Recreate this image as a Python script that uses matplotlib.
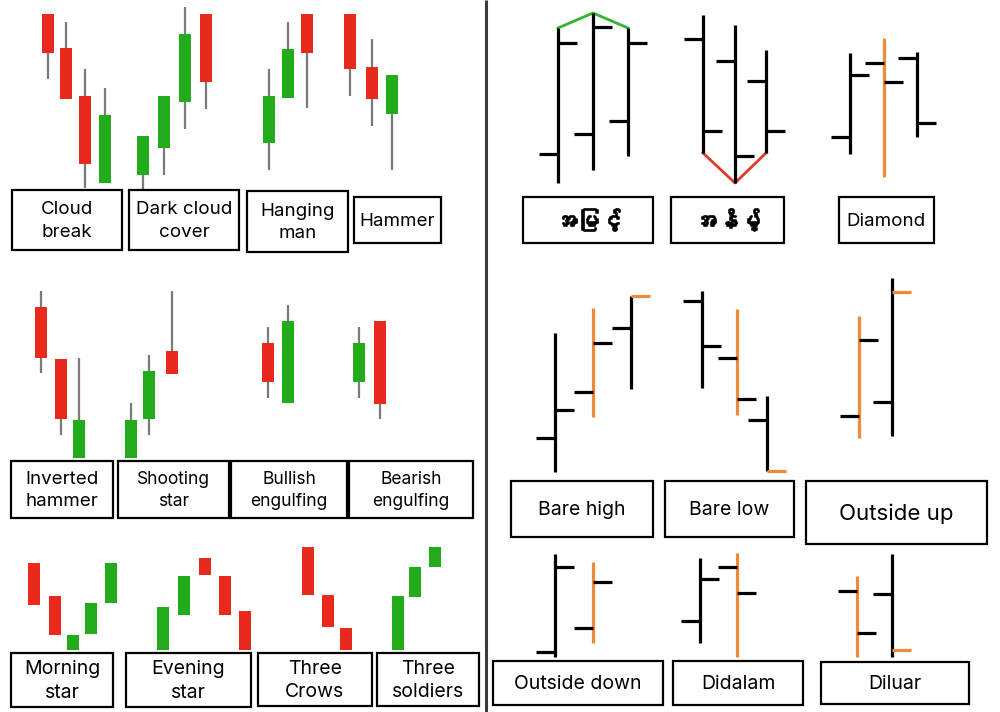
import matplotlib
matplotlib.use("Agg")
import matplotlib.pyplot as plt
import matplotlib.patheffects as pe
from matplotlib import font_manager, ft2font
from matplotlib.patches import Rectangle

# ---- candle data (price in chart units, axis runs top-down) ----
# each candle: open, high, low, close
cloud_break = [(14, 14, 79, 53), (48, 22, 99, 99), (96, 69, 188, 164), (183, 88, 183, 115)]
dark_cloud = [(175, 136, 190, 136), (148, 96, 175, 96), (102, 7, 129, 34), (14, 14, 109, 82)]
hanging_man = [(143, 69, 170, 96), (98, 22, 98, 49), (14, 14, 108, 53)]
hammer = [(14, 14, 96, 69), (67, 39, 126, 99), (114, 75, 170, 75)]
inverted_hammer = [(307, 291, 373, 358), (359, 359, 435, 419), (458, 358, 458, 420)]
shooting_star = [(458, 403, 458, 420), (419, 355, 435, 371), (351, 291, 374, 374)]
bullish_engulf = [(343, 327, 398, 382), (403, 305, 403, 321)]
bearish_engulf = [(382, 327, 398, 343), (321, 321, 419, 404)]
morning_star = [(563, 563, 605, 605), (596, 596, 635, 635), (650, 635, 650, 635),
                (634, 603, 634, 603), (603, 563, 603, 563)]
evening_star = [(650, 607, 650, 607), (615, 576, 615, 576), (558, 558, 575, 575),
                (576, 576, 615, 615), (611, 611, 650, 650)]
three_crows = [(547, 547, 595, 595), (595, 595, 627, 627), (628, 628, 650, 650)]
three_soldiers = [(650, 596, 650, 596), (597, 567, 597, 567), (567, 547, 567, 547)]

# ---- OHLC bar data: open, high, low, close ----
higher_high = [(154, 28, 183, 43), (134, 13, 170, 27), (121, 28, 156, 43)]
lower_low = [(39, 15, 153, 131), (61, 25, 183, 156), (81, 50, 153, 131)]
diamond = [(137, 53, 154, 75), (63, 38, 177, 82), (58, 52, 137, 123)]
bare_high = [(438, 333, 472, 410), (392, 308, 417, 343), (328, 296, 389, 296)]
bare_low = [(301, 291, 388, 346), (358, 309, 415, 399), (420, 396, 471, 471)]
outside_up = [(416, 316, 438, 340), (402, 278, 436, 292)]
outside_down = [(652, 554, 657, 567), (628, 562, 643, 582)]
didalam = [(621, 558, 643, 579), (567, 553, 657, 593)]
diluar = [(591, 576, 657, 633), (594, 554, 657, 650)]

labels_left = ["Cloud\nbreak", "Dark cloud\ncover", "Hanging\nman", "Hammer",
               "Inverted\nhammer", "Shooting\nstar", "Bullish\nengulfing", "Bearish\nengulfing",
               "Morning\nstar", "Evening\nstar", "Three\nCrows", "Three\nsoldiers"]
labels_right = ["အမြင့်", "အနိမ့်", "Diamond", "Bare high", "Bare low", "Outside up",
                "Outside down", "Didalam", "Diluar"]

RED = "#e8291c"
GREEN = "#22ac1c"
WICK = "#7a7a7a"
ORANGE = "#ef8a38"


def find_font(ch):
    for f in font_manager.fontManager.ttflist:
        try:
            if ord(ch) in ft2font.FT2Font(f.fname).get_charmap():
                return f.name
        except Exception:
            pass
    return None


my_font = find_font("အ")
my_family = [my_font, "DejaVu Sans"] if my_font else ["DejaVu Sans"]

fig = plt.figure(figsize=(10, 7.12), dpi=100)
ax = fig.add_axes([0, 0, 1, 1])
ax.set_xlim(0, 1000)
ax.set_ylim(712, 0)
ax.axis("off")


def draw_candles(data, xs, width=12.5):
    for x, (o, h, l, c) in zip(xs, data):
        col = RED if c > o else GREEN
        if h < min(o, c) or l > max(o, c):
            ax.vlines(x, h, l, color=WICK, lw=1.6, zorder=1)
        ax.bar(x, abs(c - o), bottom=min(o, c), width=width, color=col, zorder=2)


def draw_bars(data, xs, colors, close_cols=None, tick=19):
    close_cols = close_cols or ["black"] * len(data)
    for x, (o, h, l, c), col, cc in zip(xs, data, colors, close_cols):
        ax.vlines(x, h, l, color=col, lw=2.3, zorder=2)
        ax.hlines(o, x - tick, x, color="black", lw=2.3, zorder=3)
        ax.hlines(c, x, x + tick, color=cc, lw=2.3, zorder=3)


# left half: candlesticks
draw_candles(cloud_break, [48, 66, 85, 105])
draw_candles(dark_cloud, [143, 164, 185, 206])
draw_candles(hanging_man, [269, 288, 307])
draw_candles(hammer, [350, 372, 392])
draw_candles(inverted_hammer, [41, 61, 79])
draw_candles(shooting_star, [131, 149, 172])
draw_candles(bullish_engulf, [268, 288])
draw_candles(bearish_engulf, [359, 380])
draw_candles(morning_star, [34, 55, 73, 91, 111])
draw_candles(evening_star, [163, 184, 205, 225, 245])
draw_candles(three_crows, [308, 328, 346])
draw_candles(three_soldiers, [398, 415, 435])

# right half: OHLC bars
K = "black"
hh_x = [558, 593, 628]
draw_bars(higher_high, hh_x, [K, K, K])
ax.plot(hh_x, [b[1] for b in higher_high], color="#2fb52f", lw=2, zorder=1)
ll_x = [703, 735, 766]
draw_bars(lower_low, ll_x, [K, K, K])
ax.plot(ll_x, [b[2] for b in lower_low], color="#dd3b2b", lw=2, zorder=1)
draw_bars(diamond, [850, 884, 917], [K, ORANGE, K])
draw_bars(bare_high, [555, 593, 631], [K, ORANGE, K], [K, K, ORANGE])
draw_bars(bare_low, [702, 737, 767], [K, ORANGE, K], [K, K, ORANGE])
draw_bars(outside_up, [859, 892], [ORANGE, K], [K, ORANGE])
draw_bars(outside_down, [555, 593], [K, ORANGE])
draw_bars(didalam, [700, 737], [K, ORANGE])
draw_bars(diluar, [857, 892], [ORANGE, K], [K, ORANGE])

# label boxes: x0, y0, x1, y1, fontsize
left_boxes = [(12, 190, 122, 250, 13.5), (129, 190, 239, 250, 13.5), (247, 191, 348, 252, 13.5),
              (354, 197, 441, 243, 13.5),
              (11, 461, 113, 518, 13.5), (118, 461, 229, 518, 12.5), (231, 461, 347, 518, 12.5),
              (349, 461, 473, 518, 12.5),
              (11, 653, 113, 707, 14), (126, 653, 251, 707, 14), (258, 653, 372, 706, 14),
              (377, 653, 479, 706, 14)]
right_boxes = [(523, 197, 653, 243, 16), (671, 197, 784, 243, 16), (839, 197, 934, 243, 13.5),
               (511, 481, 653, 537, 14), (665, 481, 794, 537, 14), (806, 481, 987, 544, 16),
               (493, 661, 663, 705, 14), (673, 661, 803, 705, 14), (821, 662, 969, 704, 14)]

for text, (x0, y0, x1, y1, fs) in zip(labels_left + labels_right, left_boxes + right_boxes):
    ax.add_patch(Rectangle((x0, y0), x1 - x0, y1 - y0, fill=False, ec="black", lw=1.6, zorder=4))
    if text in labels_right[:2]:
        ax.text((x0 + x1) / 2, (y0 + y1) / 2, text, ha="center", va="center", fontsize=fs,
                fontweight="bold", family=my_family,
                path_effects=[pe.withStroke(linewidth=1.2, foreground="black")])
    else:
        ax.text((x0 + x1) / 2, (y0 + y1) / 2 + 1, text, ha="center", va="center", fontsize=fs,
                family=["Inter", "DejaVu Sans"], linespacing=1.4)

# divider
ax.vlines(486, 0, 712, color="#3a3a3a", lw=2.2)

fig.savefig("out.png", dpi=100, facecolor="white")
